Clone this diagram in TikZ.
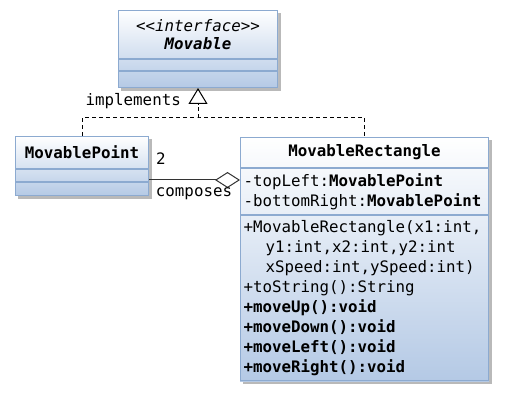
\documentclass[tikz,border=0pt]{standalone}
\usepackage{fontspec}
\setmonofont{DejaVu Sans Mono}
\usetikzlibrary{positioning,arrows.meta,backgrounds}
\definecolor{umlline}{RGB}{140,170,208}
\definecolor{umltop}{RGB}{255,255,255}
\definecolor{umlbot}{RGB}{180,201,229}
\definecolor{umlshadow}{RGB}{185,185,185}
\tikzset{
    umltext/.style={
        font=\ttfamily\fontsize{15.8pt}{20pt}\selectfont,
        text=black
    },
    classhead/.style={
        rectangle,
        draw=umlline,
        line width=1pt,
        umltext,
        inner sep=0pt,
        align=center
    },
    classpart/.style={
        rectangle,
        draw=umlline,
        line width=1pt,
        umltext,
        inner xsep=3pt,
        inner ysep=0pt,
        align=left
    },
    classbg/.style={top color=umltop,bottom color=umlbot},
    classshadow/.style={fill=umlshadow},
    lbl/.style={umltext,inner sep=0pt},
    realize/.style={line width=1pt,black,dash pattern=on 4pt off 3pt},
    aggr/.style={line width=1pt,black!80,-{Diamond[open,length=25pt,width=16pt]}}
}
\begin{document}
\begin{tikzpicture}[x=1pt,y=-1pt]
\useasboundingbox (0,0) rectangle (505,395);
% interface
\node[classhead,minimum width=159pt,minimum height=48pt,anchor=north west] (movable) at (118,10)
    {{\itshape <{}<interface>{}>}\\[-2pt]{\bfseries\itshape Movable}};
\node[classpart,minimum width=159pt,minimum height=11pt,below=0pt of movable] (movattr) {};
\node[classpart,minimum width=159pt,minimum height=16pt,below=0pt of movattr] (movops) {};
% point
\node[classhead,minimum width=133pt,minimum height=32pt,anchor=north west] (mpoint) at (15,136)
    {\bfseries MovablePoint};
\node[classpart,minimum width=133pt,minimum height=12pt,below=0pt of mpoint] (mpattr) {};
\node[classpart,minimum width=133pt,minimum height=13pt,below=0pt of mpattr] (mpops) {};
% rectangle
\node[classhead,minimum width=248pt,minimum height=30pt,anchor=north west] (mrect) at (240,137)
    {\bfseries MovableRectangle};
\node[classpart,text width=242pt,minimum height=46pt,below=0pt of mrect] (mrattr)
    {-topLeft:\textbf{MovablePoint}\\
     -bottomRight:\textbf{MovablePoint}};
\node[classpart,text width=242pt,minimum height=165pt,below=0pt of mrattr] (mrops)
    {+MovableRectangle(x1:int,\\
     \hspace*{22pt}y1:int,x2:int,y2:int\\
     \hspace*{22pt}xSpeed:int,ySpeed:int)\\
     +toString():String\\
     \textbf{+moveUp():void}\\
     \textbf{+moveDown():void}\\
     \textbf{+moveLeft():void}\\
     \textbf{+moveRight():void}};
\begin{pgfonlayer}{background}
\fill[classshadow] ([shift={(3,3)}]movable.north west) rectangle ([shift={(3,3)}]movops.south east);
\shade[classbg] (movable.north west) rectangle (movops.south east);
\fill[classshadow] ([shift={(3,3)}]mpoint.north west) rectangle ([shift={(3,3)}]mpops.south east);
\shade[classbg] (mpoint.north west) rectangle (mpops.south east);
\fill[classshadow] ([shift={(3,3)}]mrect.north west) rectangle ([shift={(3,3)}]mrops.south east);
\shade[classbg] (mrect.north west) rectangle (mrops.south east);
\end{pgfonlayer}
% connectors
\coordinate (join) at (movops.south |- 0,118);
\draw[realize] (mpoint.north) |- (join) -| (mrect.north);
\draw[realize,-{Triangle[open,length=16pt,width=19pt]}] (join) -- (movops.south);
\node[lbl,anchor=east] (impl) at (181,101) {implements};
\coordinate (agg) at ([yshift=2pt]mpattr.south east);
\draw[aggr] (agg) -- (agg -| mrect.west);
\node[lbl] (mult) at (161,159) {2};
\node[lbl] (comp) at (194,194) {composes};
\end{tikzpicture}
\end{document}
